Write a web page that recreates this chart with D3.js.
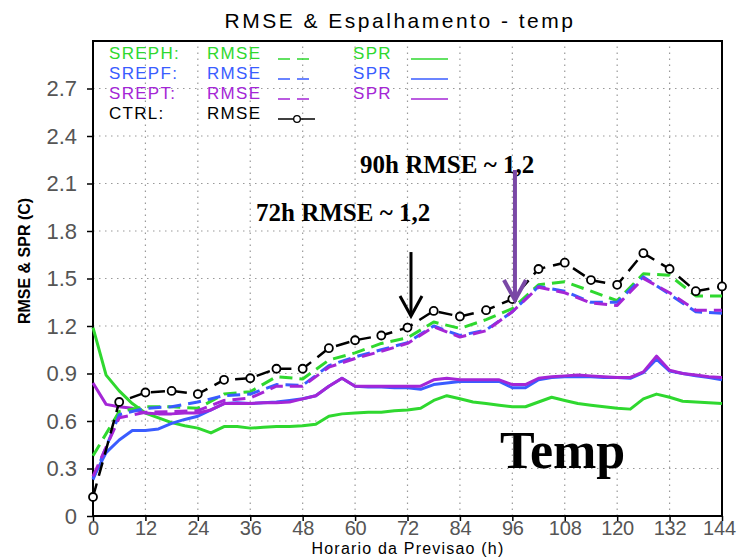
<!DOCTYPE html>
<html>
<head>
<meta charset="utf-8">
<script src="https://cdn.jsdelivr.net/npm/d3@7/dist/d3.min.js"></script>
<style>
  body { margin: 0; background: #fff; }
  svg { display: block; }
</style>
</head>
<body>
<svg id="chart"></svg>
<script>
// forecast hours: RMSE every 6h, spread every 3h
const rmseHours = [0, 6, 12, 18, 24, 30, 36, 42, 48, 54, 60, 66, 72, 78, 84, 90, 96, 102, 108, 114, 120, 126, 132, 138, 144];
const sprHours = [0, 3, 6, 9, 12, 15, 18, 21, 24, 27, 30, 33, 36, 39, 42, 45, 48, 51, 54, 57, 60, 63, 66, 69, 72,
                  75, 78, 81, 84, 87, 90, 93, 96, 99, 102, 105, 108, 111, 114, 117, 120, 123, 126, 129, 132, 135, 138, 141, 144];

const srephRmse = [0.38, 0.66, 0.69, 0.69, 0.68, 0.77, 0.785, 0.88, 0.865, 0.985, 1.03, 1.09, 1.125, 1.225, 1.185, 1.24, 1.31, 1.46, 1.48, 1.42, 1.36, 1.53, 1.52, 1.39, 1.39];
const srepfRmse = [0.23, 0.64, 0.68, 0.69, 0.72, 0.76, 0.77, 0.83, 0.825, 0.95, 1.005, 1.05, 1.095, 1.2, 1.14, 1.175, 1.29, 1.45, 1.42, 1.35, 1.35, 1.51, 1.4, 1.29, 1.28];
const sreptRmse = [0.25, 0.62, 0.655, 0.66, 0.665, 0.73, 0.745, 0.82, 0.82, 0.94, 0.995, 1.04, 1.09, 1.195, 1.13, 1.17, 1.29, 1.445, 1.41, 1.345, 1.33, 1.5, 1.41, 1.3, 1.3];
const ctrlRmse = [0.12, 0.72, 0.78, 0.79, 0.77, 0.86, 0.87, 0.93, 0.93, 1.06, 1.11, 1.14, 1.19, 1.295, 1.26, 1.3, 1.37, 1.56, 1.6, 1.49, 1.46, 1.66, 1.56, 1.42, 1.45];

const srephSpr = [1.19, 0.89, 0.79, 0.71, 0.65, 0.62, 0.59, 0.57, 0.555, 0.525, 0.565, 0.565, 0.555, 0.56, 0.565, 0.565, 0.57, 0.58, 0.63, 0.645, 0.65, 0.655, 0.655, 0.665, 0.67,
                  0.68, 0.73, 0.76, 0.74, 0.72, 0.71, 0.7, 0.69, 0.69, 0.72, 0.75, 0.73, 0.71, 0.7, 0.69, 0.68, 0.675, 0.74, 0.77, 0.75, 0.725, 0.72, 0.715, 0.71];
const srepfSpr = [0.24, 0.4, 0.48, 0.54, 0.54, 0.55, 0.585, 0.61, 0.63, 0.67, 0.71, 0.715, 0.71, 0.715, 0.72, 0.73, 0.74, 0.76, 0.82, 0.87, 0.82, 0.815, 0.815, 0.81, 0.81,
                  0.8, 0.83, 0.84, 0.85, 0.85, 0.85, 0.85, 0.81, 0.81, 0.86, 0.875, 0.88, 0.88, 0.88, 0.875, 0.875, 0.87, 0.905, 0.99, 0.915, 0.9, 0.885, 0.875, 0.86];
const sreptSpr = [0.84, 0.705, 0.69, 0.68, 0.65, 0.645, 0.645, 0.65, 0.65, 0.67, 0.71, 0.71, 0.71, 0.715, 0.715, 0.72, 0.74, 0.76, 0.82, 0.87, 0.82, 0.82, 0.82, 0.82, 0.82,
                  0.82, 0.86, 0.87, 0.86, 0.86, 0.86, 0.86, 0.83, 0.83, 0.87, 0.88, 0.885, 0.89, 0.885, 0.88, 0.875, 0.875, 0.91, 1.01, 0.92, 0.9, 0.89, 0.88, 0.875];

const xTicks = [0, 12, 24, 36, 48, 60, 72, 84, 96, 108, 120, 132, 144];
const yTicks = [0, 0.3, 0.6, 0.9, 1.2, 1.5, 1.8, 2.1, 2.4, 2.7];
const yTickLabels = ["0", "0.3", "0.6", "0.9", "1.2", "1.5", "1.8", "2.1", "2.4", "2.7"];

const expNames = ["SREPH:", "SREPF:", "SREPT:", "CTRL:"];
const expColors = ["#2fd82f", "#3a5cff", "#a426d6", "#000000"];

const width = 739, height = 558;

const svg = d3.select('#chart')
  .attr('width', width)
  .attr('height', height)
  .style('font-family', '"Liberation Sans", Arial, sans-serif');

const x = d3.scaleLinear().domain([0, 144]).range([93, 722]);
const y = d3.scaleLinear().domain([0, 3]).range([516, 41]);

// dotted grid
const grid = svg.append('g').attr('stroke', '#9a9a9a').attr('stroke-width', 1.2).attr('stroke-dasharray', '1.5,4.5');
grid.selectAll('.gx').data(xTicks.slice(1, -1)).enter().append('line')
  .attr('x1', d => x(d)).attr('x2', d => x(d))
  .attr('y1', y(0)).attr('y2', y(3));
grid.selectAll('.gy').data(yTicks.slice(1)).enter().append('line')
  .attr('x1', x(0)).attr('x2', x(144))
  .attr('y1', d => y(d)).attr('y2', d => y(d));

// axes
const yAxis = svg.append('g')
  .attr('transform', `translate(${x(0)},0)`)
  .call(d3.axisLeft(y).tickValues(yTicks).tickSize(6).tickPadding(10).tickFormat((d, i) => yTickLabels[i]));
const xAxis = svg.append('g')
  .attr('transform', `translate(0,${y(0)})`)
  .call(d3.axisBottom(x).tickValues(xTicks).tickSize(5).tickPadding(0).tickFormat(d => String(d)));

[yAxis, xAxis].forEach(ax => {
  ax.select('.domain').remove();
  ax.selectAll('line').attr('stroke', '#000').attr('stroke-width', 1.5);
  ax.selectAll('text')
    .attr('fill', '#555')
    .style('font-family', '"Liberation Sans", Arial, sans-serif');
});
yAxis.selectAll('text').style('font-size', '22px');
xAxis.selectAll('text').style('font-size', '20px').style('letter-spacing', '-0.2px');
xAxis.selectAll('text').filter(d => d === 144).attr('dx', '-3');

// frame
svg.append('rect')
  .attr('x', x(0)).attr('y', y(3))
  .attr('width', x(144) - x(0)).attr('height', y(0) - y(3))
  .attr('fill', 'none').attr('stroke', '#000').attr('stroke-width', 2);

// series
function seriesLine(hours) {
  return d3.line().x((d, i) => x(hours[i])).y(d => y(d));
}

function drawSeries(values, hours, color, dashed) {
  svg.append('path')
    .attr('d', seriesLine(hours)(values))
    .attr('fill', 'none')
    .attr('stroke', color)
    .attr('stroke-width', 3)
    .attr('stroke-linejoin', 'round')
    .attr('stroke-dasharray', dashed ? '13,7' : null);
}

drawSeries(srephSpr, sprHours, expColors[0], false);
drawSeries(srepfSpr, sprHours, expColors[1], false);
drawSeries(sreptSpr, sprHours, expColors[2], false);
drawSeries(srephRmse, rmseHours, expColors[0], true);
drawSeries(srepfRmse, rmseHours, expColors[1], true);
drawSeries(sreptRmse, rmseHours, expColors[2], true);

svg.append('path')
  .attr('d', seriesLine(rmseHours)(ctrlRmse))
  .attr('fill', 'none')
  .attr('stroke', '#000')
  .attr('stroke-width', 2.5)
  .attr('stroke-dasharray', '14,8');
svg.selectAll('.ctrl-pt').data(ctrlRmse).enter().append('circle')
  .attr('cx', (d, i) => x(rmseHours[i]))
  .attr('cy', d => y(d))
  .attr('r', 4)
  .attr('fill', '#fff')
  .attr('stroke', '#000')
  .attr('stroke-width', 1.8);

// legend
const legend = svg.append('g').style('font-size', '17px').style('letter-spacing', '1.3px');
expNames.forEach((name, i) => {
  const ty = 59 + i * 20;
  const color = expColors[i];
  legend.append('text').attr('x', 109).attr('y', ty).attr('fill', color).text(name);
  legend.append('text').attr('x', 207).attr('y', ty).attr('fill', color).text('RMSE');
  if (i < 3) {
    legend.append('line')
      .attr('x1', 278).attr('x2', 315).attr('y1', ty).attr('y2', ty)
      .attr('stroke', color).attr('stroke-width', 1.5).attr('stroke-dasharray', '12,7');
    legend.append('text').attr('x', 353).attr('y', ty).attr('fill', color).text('SPR');
    legend.append('line')
      .attr('x1', 411).attr('x2', 448).attr('y1', ty).attr('y2', ty)
      .attr('stroke', color).attr('stroke-width', 1.5);
  } else {
    legend.append('line')
      .attr('x1', 278).attr('x2', 315).attr('y1', ty).attr('y2', ty)
      .attr('stroke', color).attr('stroke-width', 1.5);
    legend.append('circle')
      .attr('cx', 297).attr('cy', ty).attr('r', 3.3)
      .attr('fill', '#fff').attr('stroke', color).attr('stroke-width', 1.3);
  }
});

// titles
svg.append('text')
  .attr('x', 400).attr('y', 28)
  .attr('text-anchor', 'middle')
  .style('font-size', '21px')
  .style('letter-spacing', '2.5px')
  .text('RMSE & Espalhamento - temp');

svg.append('text')
  .attr('transform', 'translate(30,261) rotate(-90)')
  .attr('text-anchor', 'middle')
  .style('font-size', '16px')
  .style('font-weight', 'bold')
  .text('RMSE & SPR (C)');

svg.append('text')
  .attr('x', 408).attr('y', 554)
  .attr('text-anchor', 'middle')
  .style('font-size', '16px')
  .style('letter-spacing', '1.2px')
  .text('Horario da Previsao (h)');

// annotations
const serif = '"Liberation Serif", "Times New Roman", serif';

function arrow(hx, vTop, vTip, color, sw) {
  const ax = x(hx), y0 = y(vTop), y1 = y(vTip);
  const g = svg.append('g').attr('stroke', color).attr('stroke-width', sw).attr('fill', 'none');
  g.append('line').attr('x1', ax).attr('x2', ax).attr('y1', y0).attr('y2', y1 - 2);
  g.append('polyline').attr('points', `${ax - 11},${y1 - 20} ${ax},${y1} ${ax + 11},${y1 - 20}`);
}

svg.append('text')
  .attr('x', 256).attr('y', 221)
  .style('font-family', serif).style('font-weight', 'bold').style('font-size', '25px')
  .text('72h RMSE ~ 1,2');
arrow(72.8, 1.667, 1.263, '#000', 3);

svg.append('text')
  .attr('x', 360).attr('y', 173)
  .style('font-family', serif).style('font-weight', 'bold').style('font-size', '25px')
  .text('90h RMSE ~ 1,2');
arrow(96.6, 2.185, 1.364, '#7a48a6', 4);

svg.append('text')
  .attr('x', 500).attr('y', 468)
  .style('font-family', serif).style('font-weight', 'bold').style('font-size', '52px')
  .text('Temp');
</script>
</body>
</html>
